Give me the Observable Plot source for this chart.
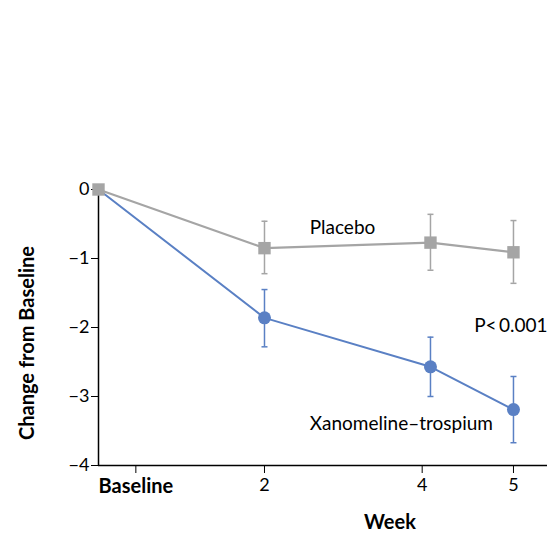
<!DOCTYPE html>
<html>
<head>
<meta charset="utf-8">
<script src="https://cdn.jsdelivr.net/npm/d3@7"></script>
<script src="https://cdn.jsdelivr.net/npm/@observablehq/plot@0.6"></script>
<style>
  html, body { margin: 0; padding: 0; background: #fff; }
  #chart { width: 553px; height: 535px; }
  svg { font-family: Lato, "Open Sans", sans-serif; }
</style>
</head>
<body>
<div id="chart"></div>
<script>
// Weeks (0 = baseline)
const weeks = [0, 2, 4, 5];
// Placebo: mean change, lower and upper error bounds
const placeboMean = [0, -0.85, -0.77, -0.91];
const placeboLow  = [0, -1.22, -1.17, -1.36];
const placeboHigh = [0, -0.46, -0.36, -0.45];
// Xanomeline–trospium
const xtMean = [0, -1.86, -2.57, -3.19];
const xtLow  = [0, -2.28, -3.00, -3.67];
const xtHigh = [0, -1.45, -2.14, -2.71];
// Axis ticks
const xTickValues = [0.45, 2, 3.9, 5];
const xTickLabels = ["Baseline", "2", "4", "5"];
const yTickValues = [0, -1, -2, -3, -4];
// Annotations
const labels = [
  {week: 2.94, value: -0.55, text: "Placebo", anchor: "middle"},
  {week: 5.41, value: -1.97, text: "P<\u20090.001", anchor: "end"},
  {week: 3.65, value: -3.39, text: "Xanomeline\u2013trospium", anchor: "middle"}
];

const gray = "#a5a5a5";
const blue = "#5a80c4";

const placebo = weeks.map((w, i) => ({week: w, mean: placeboMean[i], lo: placeboLow[i], hi: placeboHigh[i]}));
const xt = weeks.map((w, i) => ({week: w, mean: xtMean[i], lo: xtLow[i], hi: xtHigh[i]}));

const capSymbol = {
  draw(ctx, size) {
    const r = Math.sqrt(size / Math.PI);
    ctx.moveTo(-r, 0);
    ctx.lineTo(r, 0);
  }
};

const errPlacebo = placebo.filter(d => d.week > 0);
const errXt = xt.filter(d => d.week > 0);

const chart = Plot.plot({
  width: 553,
  height: 535,
  marginLeft: 98,
  marginRight: 6,
  marginTop: 189,
  marginBottom: 70,
  style: {fontFamily: "Lato, 'Open Sans', sans-serif", fontSize: "18px", color: "#000", background: "#fff"},
  x: {type: "linear", domain: [0, 5.41], label: null, axis: null},
  y: {type: "linear", domain: [-4, 0], label: null, axis: null},
  marks: [
    // axes lines
    Plot.ruleX([0], {stroke: "#000", strokeWidth: 1.5}),
    Plot.ruleY([-4], {stroke: "#000", strokeWidth: 1.5}),
    // y axis ticks + labels
    Plot.axisY(yTickValues, {anchor: "left", label: null, tickSize: 7, tickPadding: 2, tickFormat: d => d === 0 ? "0" : "\u2212" + Math.abs(d), fontSize: 18, stroke: "#000"}),
    // x axis ticks + labels
    Plot.axisX(xTickValues, {anchor: "bottom", label: null, tickSize: 8, tickPadding: 5, tickFormat: (d, i) => xTickLabels[i], fontSize: 18, stroke: "#000"}),
    // error bars
    Plot.ruleX(errPlacebo, {x: "week", y1: "lo", y2: "hi", stroke: gray, strokeWidth: 1.5}),
    Plot.dot(errPlacebo, {x: "week", y: "lo", symbol: capSymbol, r: 3, stroke: gray, strokeWidth: 1.5}),
    Plot.dot(errPlacebo, {x: "week", y: "hi", symbol: capSymbol, r: 3, stroke: gray, strokeWidth: 1.5}),
    Plot.ruleX(errXt, {x: "week", y1: "lo", y2: "hi", stroke: blue, strokeWidth: 1.5}),
    Plot.dot(errXt, {x: "week", y: "lo", symbol: capSymbol, r: 3, stroke: blue, strokeWidth: 1.5}),
    Plot.dot(errXt, {x: "week", y: "hi", symbol: capSymbol, r: 3, stroke: blue, strokeWidth: 1.5}),
    // lines
    Plot.line(xt, {x: "week", y: "mean", stroke: blue, strokeWidth: 2}),
    Plot.line(placebo, {x: "week", y: "mean", stroke: gray, strokeWidth: 2.2}),
    Plot.dot(errXt, {x: "week", y: "mean", fill: blue, r: 6.5, stroke: null}),
    Plot.dot(placebo, {x: "week", y: "mean", fill: gray, symbol: "square", r: 7, stroke: null}),
    // annotations
    Plot.text(labels.filter(d => d.anchor === "middle"), {x: "week", y: "value", text: "text", fontSize: 19, fill: "#000", textAnchor: "middle"}),
    Plot.text(labels.filter(d => d.anchor === "end"), {x: "week", y: "value", text: "text", fontSize: 19, fill: "#000", textAnchor: "end"})
  ]
});

const svg = d3.select(chart);
// bold "Baseline" tick label
svg.selectAll("text").filter(function() { return this.textContent === "Baseline"; })
  .attr("font-weight", "bold").attr("font-size", 20);
// axis titles
svg.append("text")
  .attr("transform", "translate(34,343) rotate(-90)")
  .attr("text-anchor", "middle")
  .attr("font-weight", "bold")
  .attr("font-size", 20)
  .attr("fill", "#000")
  .text("Change from Baseline");
svg.append("text")
  .attr("x", 390)
  .attr("y", 529)
  .attr("text-anchor", "middle")
  .attr("font-weight", "bold")
  .attr("font-size", 20)
  .attr("fill", "#000")
  .text("Week");

document.getElementById("chart").appendChild(chart);
</script>
</body>
</html>
